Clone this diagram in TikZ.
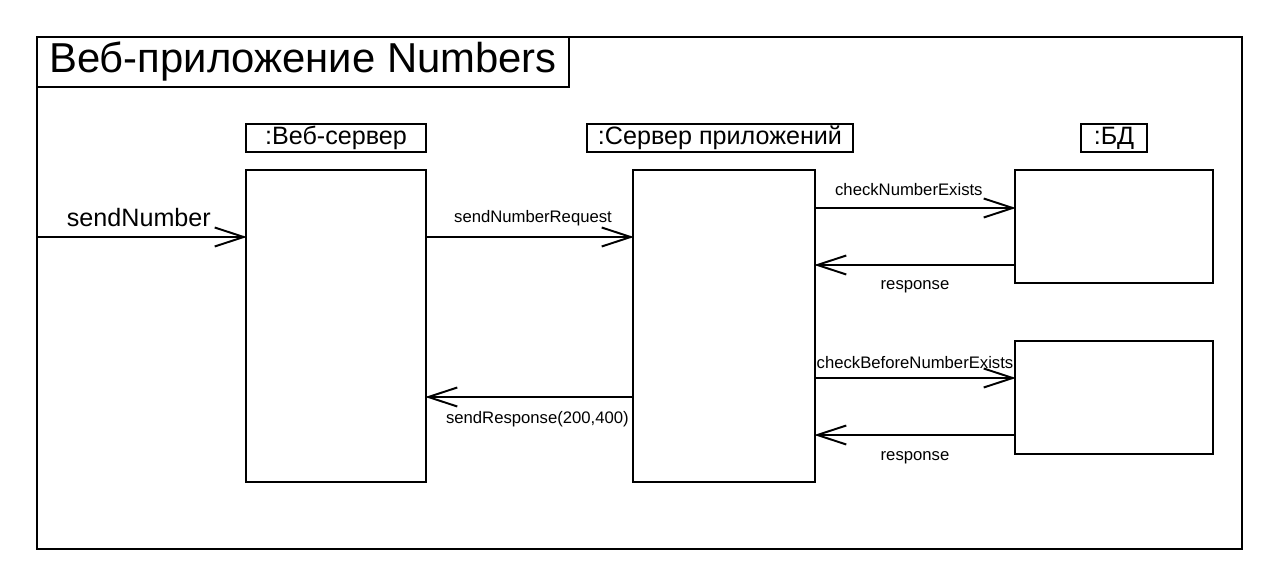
\documentclass[tikz,border=0pt]{standalone}
\usepackage{fontspec}
\setmainfont{Liberation Sans}
\usetikzlibrary{arrows.meta,positioning,calc}
\tikzset{
  framebox/.style={draw,line width=1.1pt,inner sep=0pt},
  titlebox/.style={draw,line width=1.1pt,inner sep=0pt,
    minimum width=10.64cm,minimum height=1.0cm,font=\fontsize{23.8}{26}\selectfont},
  objname/.style={draw,line width=1.1pt,inner sep=0pt,
    minimum height=0.56cm,font=\fontsize{14.3}{16}\selectfont},
  actbox/.style={draw,line width=1.1pt,inner sep=0pt,fill=white},
  msg/.style={-{Straight Barb[length=0.58cm,width=0.38cm,line width=1.1pt]},line width=1.1pt,shorten >=-1pt},
  msgword/.style={inner sep=2pt,font=\fontsize{9.5}{11}\selectfont},
  bigword/.style={inner sep=3pt,font=\fontsize{14.3}{16}\selectfont}
}
\begin{document}
\begin{tikzpicture}[x=0.02cm,y=-0.02cm]
\useasboundingbox[fill=white] (0,0) rectangle (1280,587);

\node[framebox,minimum width=24.1cm,minimum height=10.24cm] (frame) at (639.5,293) {};
\node[titlebox] (title) at (303,62) {Веб-приложение Numbers};

\node[objname,minimum width=3.6cm] (webname) at (336,138) {:Веб-сервер};
\node[objname,minimum width=5.32cm] (appname) at (720,138) {:Сервер приложений};
\node[objname,minimum width=1.32cm] (dbname) at (1114,138) {:БД};

\node[actbox,minimum width=3.6cm,minimum height=6.24cm] (web) at (336,326) {};
\node[actbox,minimum width=3.64cm,minimum height=6.24cm] (app) at (724,326) {};
\node[actbox,minimum width=3.96cm,minimum height=2.26cm] (db1) at (1114,226.5) {};
\node[actbox,minimum width=3.96cm,minimum height=2.26cm] (db2) at (1114,397.5) {};

\coordinate (in) at (frame.west |- 0,237);

\draw[msg] (in)--node[bigword,above=2.3pt,xshift=-1pt]{sendNumber}(in -| web.west);
\draw[msg] (web.east |- 0,237)--node[msgword,above=4pt,xshift=2pt]{sendNumberRequest}(app.west |- 0,237);
\draw[msg] (app.east |- 0,208)--node[msgword,above=4.5pt,xshift=-3.5pt]{checkNumberExists}(db1.west |- 0,208);
\draw[msg] (db1.west |- 0,265)--node[msgword,below=6.5pt]{response}(app.east |- 0,265);
\draw[msg] (app.east |- 0,378)--node[msgword,above=3pt]{checkBeforeNumberExists}(db2.west |- 0,378);
\draw[msg] (db2.west |- 0,435)--node[msgword,below=7pt]{response}(app.east |- 0,435);
\draw[msg] (app.west |- 0,397)--node[msgword,below=5.5pt,xshift=4.5pt]{sendResponse(200,400)}(web.east |- 0,397);
\end{tikzpicture}
\end{document}
